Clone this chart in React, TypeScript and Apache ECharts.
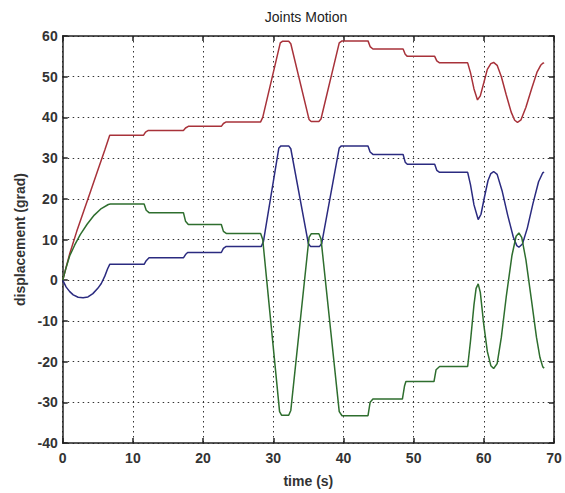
import React, { useEffect, useRef } from "react";
import * as echarts from "echarts";

const xTicks = [0, 10, 20, 30, 40, 50, 60, 70];
const yTicks = [-40, -30, -20, -10, 0, 10, 20, 30, 40, 50, 60];

const joint1Red: [number, number][] = [
  [0, 0], [1, 6.5], [2, 12], [3, 17], [4, 22], [5, 27], [6, 32], [6.7, 35.6],
  [11.5, 35.6], [11.8, 36.4], [12.2, 36.8],
  [17.2, 36.8], [17.5, 37.4], [17.9, 37.8],
  [22.6, 37.8], [22.9, 38.5], [23.3, 38.9],
  [28.2, 38.9], [28.5, 40], [31.0, 58.3], [31.3, 58.7], [32.2, 58.7], [32.5, 58.1],
  [35.1, 39.5], [35.4, 39], [36.5, 39], [36.8, 39.6], [39.4, 58.3], [39.8, 58.8],
  [43.5, 58.8], [43.8, 57.4], [44.2, 56.8],
  [48.5, 56.8], [48.8, 55.5], [49.1, 55],
  [53, 55], [53.3, 53.9], [53.7, 53.4],
  [57.7, 53.4], [58.1, 51], [58.6, 47], [59.1, 44.3], [59.5, 45.3], [60, 48.5], [60.5, 51.8],
  [61, 53.2], [61.4, 53.5], [61.9, 52.8], [62.5, 50], [63.2, 45.5], [63.9, 41.3], [64.4, 39.3],
  [64.8, 38.8], [65.3, 39.4], [66, 42.5], [66.8, 47], [67.6, 51.2], [68.1, 52.8], [68.4, 53.3],
  [68.6, 53.4],
];

const joint2Blue: [number, number][] = [
  [0, 0], [0.5, -1.7], [1, -2.8], [1.5, -3.6], [2.2, -4.2], [2.9, -4.3], [3.6, -4.1],
  [4.3, -3.3], [5, -2], [5.5, -0.8], [6, 1], [6.4, 2.8], [6.7, 3.9],
  [11.6, 3.9], [11.9, 4.8], [12.3, 5.5],
  [17.2, 5.5], [17.5, 6.3], [17.8, 6.8],
  [22.6, 6.8], [22.9, 7.8], [23.3, 8.3],
  [28.3, 8.3], [28.6, 9.5], [30.8, 32.5], [31.1, 33], [32.2, 33], [32.5, 32.3],
  [35, 9], [35.3, 8.3], [36.6, 8.3], [36.9, 9], [39.4, 32.5], [39.7, 33],
  [43.5, 33], [43.8, 31.5], [44.2, 30.9],
  [48.5, 30.9], [48.8, 29], [49.1, 28.5],
  [53, 28.5], [53.3, 27], [53.7, 26.5],
  [57.7, 26.5], [58.1, 23.5], [58.6, 18.5], [59.2, 14.9], [59.6, 16.2], [60.1, 20.5],
  [60.6, 24.5], [61, 26.2], [61.4, 26.7], [61.9, 26], [62.6, 22], [63.4, 16], [64.2, 10.6],
  [64.7, 8.5], [65, 8.1], [65.5, 8.9], [66.2, 12.8], [67, 18.8], [67.8, 24.2], [68.4, 26.4],
  [68.6, 26.5],
];

const joint3Green: [number, number][] = [
  [0, 0], [0.5, 3.2], [1, 6], [1.7, 8.6], [2.5, 11.2], [3.5, 13.8], [4.5, 16],
  [5.5, 17.6], [6.5, 18.6], [6.8, 18.7],
  [11.6, 18.7], [11.9, 17.2], [12.3, 16.6],
  [17.2, 16.6], [17.5, 14.5], [17.9, 13.7],
  [22.6, 13.7], [22.9, 12], [23.3, 11.5],
  [28.2, 11.5], [28.5, 10], [30.9, -32.3], [31.2, -33.2], [32.2, -33.2], [32.5, -32],
  [35.1, 10.5], [35.4, 11.4], [36.5, 11.4], [36.8, 10.2], [39.4, -32.3], [39.8, -33.3],
  [43.5, -33.3], [43.8, -30], [44.2, -29.2],
  [48.4, -29.2], [48.7, -26], [48.9, -24.9],
  [52.9, -24.9], [53.2, -22], [53.7, -21.2],
  [57.7, -21.2], [58.1, -15], [58.6, -6], [58.9, -2], [59.2, -0.9], [59.5, -3], [60, -11],
  [60.5, -17.5], [61, -21], [61.4, -21.7], [61.9, -20.5], [62.5, -14], [63.2, -4], [64, 6],
  [64.6, 10.8], [65, 11.6], [65.4, 10.5], [66, 5], [66.8, -5], [67.5, -14], [68, -19],
  [68.4, -21.3], [68.6, -21.6],
];

const FONT = "'Liberation Sans', Arial, sans-serif";
const AXIS_COLOR = "#222";

export default function App() {
  const ref = useRef<HTMLDivElement>(null);
  useEffect(() => {
    const chart = echarts.init(ref.current!, null, { renderer: "svg" });
    const labelStyle = {
      fontSize: 14,
      fontFamily: FONT,
      color: "#333",
      fontWeight: "bold" as const,
    };
    const baseAxis = {
      type: "value" as const,
      axisLine: { show: true, onZero: false, lineStyle: { color: AXIS_COLOR, width: 1.5 } },
      axisTick: { show: true, inside: true, length: 5, lineStyle: { color: AXIS_COLOR, width: 1.5 } },
    };
    chart.setOption({
      animation: false,
      backgroundColor: "#fff",
      graphic: [
        {
          type: "text",
          x: 306,
          y: 17,
          style: {
            text: "Joints Motion",
            align: "center",
            verticalAlign: "middle",
            fontSize: 14,
            fontFamily: FONT,
            fill: "#222",
          },
        },
      ],
      grid: { left: 62.7, right: 11, top: 36, bottom: 44.7 },
      xAxis: [
        {
          ...baseAxis,
          position: "bottom",
          min: xTicks[0],
          max: xTicks[xTicks.length - 1],
          interval: 10,
          axisLabel: { ...labelStyle, margin: 8 },
          splitLine: { show: true, lineStyle: { color: "#333", width: 1, type: [1.5, 3.5] } },
          name: "time (s)",
          nameLocation: "middle",
          nameGap: 31,
          nameTextStyle: { ...labelStyle },
        },
        {
          ...baseAxis,
          position: "top",
          min: xTicks[0],
          max: xTicks[xTicks.length - 1],
          interval: 10,
          axisLabel: { show: false },
          splitLine: { show: false },
        },
      ],
      yAxis: [
        {
          ...baseAxis,
          position: "left",
          min: yTicks[0],
          max: yTicks[yTicks.length - 1],
          interval: 10,
          axisLabel: { ...labelStyle, margin: 5 },
          splitLine: { show: true, lineStyle: { color: "#333", width: 1, type: [1.5, 3.5] } },
          name: "displacement (grad)",
          nameLocation: "middle",
          nameGap: 33,
          nameTextStyle: { ...labelStyle },
        },
        {
          ...baseAxis,
          position: "right",
          min: yTicks[0],
          max: yTicks[yTicks.length - 1],
          interval: 10,
          axisLabel: { show: false },
          splitLine: { show: false },
        },
      ],
      series: [
        { name: "joint1", data: joint1Red, color: "#a8323a" },
        { name: "joint2", data: joint2Blue, color: "#2b2b80" },
        { name: "joint3", data: joint3Green, color: "#2e6e2e" },
      ].map((s) => ({
        type: "line",
        name: s.name,
        data: s.data,
        xAxisIndex: 0,
        yAxisIndex: 0,
        showSymbol: false,
        symbol: "none",
        smooth: false,
        lineStyle: { color: s.color, width: 1.5 },
        itemStyle: { color: s.color },
      })),
    });
    return () => chart.dispose();
  }, []);
  return (
    <div
      ref={ref}
      style={{ position: "absolute", left: 0, top: 0, width: 565, height: 493, background: "#fff" }}
    />
  );
}
